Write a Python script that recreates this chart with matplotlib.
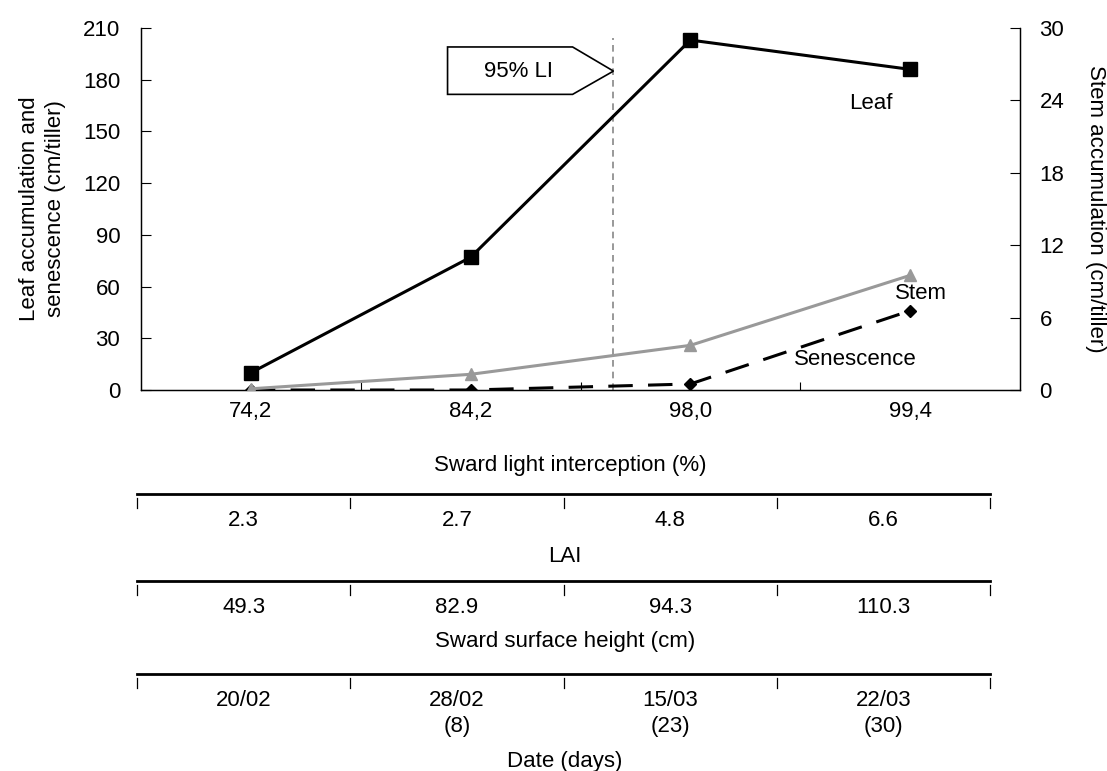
import matplotlib.pyplot as plt
import numpy as np
from matplotlib.patches import Polygon

plt.rcParams['font.family'] = ['Liberation Sans', 'DejaVu Sans']

# data
light_int = ['74,2', '84,2', '98,0', '99,4']
leaf = [10, 77, 203, 186]
senescence = [0, 0, 3.5, 46]
stem = [0.1, 1.3, 3.7, 9.5]          # right axis
lai = ['2.3', '2.7', '4.8', '6.6']
height = ['49.3', '82.9', '94.3', '110.3']
dates = ['20/02', '28/02\n(8)', '15/03\n(23)', '22/03\n(30)']
li95_x = 1.65

FS = 16
W, H = 1107, 771
fig = plt.figure(figsize=(W / 100, H / 100), dpi=100)
ax = fig.add_axes([141 / W, 1 - 390 / H, (1020 - 141) / W, (390 - 28) / H])
ax2 = ax.twinx()

x = np.arange(len(light_int))
ax.plot(x, leaf, color='black', lw=2.2, marker='s', ms=10, zorder=5)
ax.plot(x, senescence, color='black', lw=2.2, marker='D', ms=6,
        dashes=(8, 5), zorder=4)
ax2.plot(x, stem, color='#999999', lw=2.2, marker='^', ms=9, zorder=3)

ax.set_xlim(-0.5, 3.5)
ax.set_ylim(0, 210)
ax2.set_ylim(0, 30)
ax.set_yticks(np.arange(0, 211, 30))
ax2.set_yticks(np.arange(0, 31, 6))

ax.set_xticks([0.5, 1.5, 2.5])
ax.set_xticklabels([])
ax.tick_params(axis='x', which='major', direction='in', length=6, width=0.8)
ax.set_xticks(x, minor=True)
ax.set_xticklabels(light_int, minor=True)
ax.tick_params(axis='x', which='minor', length=0, pad=8, labelsize=FS)
ax.tick_params(axis='y', direction='in', length=7, width=0.8, labelsize=FS, pad=15)
ax2.tick_params(axis='y', direction='in', length=7, width=0.8, labelsize=FS, pad=14)

for a in (ax, ax2):
    a.spines['top'].set_visible(False)
    for s in a.spines.values():
        s.set_linewidth(0.9)

ax.set_ylabel('Leaf accumulation and\nsenescence (cm/tiller)', fontsize=FS,
              labelpad=12, linespacing=1.3)
ax2.set_ylabel('Stem accumulation (cm/tiller)', fontsize=FS, rotation=-90,
               labelpad=30)

# 95% LI marker
ax.plot([li95_x, li95_x], [0, 204], color='#888888', lw=1.2, dashes=(4, 3), zorder=1)
box = Polygon([[0.895, 199], [1.464, 199], [li95_x, 185], [1.464, 171.5],
               [0.895, 171.5]], closed=True, facecolor='white',
              edgecolor='black', lw=1.2, zorder=6)
ax.add_patch(box)
ax.text(1.22, 185, '95% LI', fontsize=FS, ha='center', va='center', zorder=7)

ax.text(2.82, 166, 'Leaf', fontsize=FS, ha='center', va='center')
ax.text(3.05, 56, 'Stem', fontsize=FS, ha='center', va='center')
ax.text(2.75, 17.5, 'Senescence', fontsize=FS, ha='center', va='center')

fig.text(570 / W, 1 - 466 / H, 'Sward light interception (%)', fontsize=FS,
         ha='center', va='center')

# lower tables
tab = fig.add_axes([0, 0, 1, 1], zorder=-1)
tab.set_xlim(0, W)
tab.set_ylim(H, 0)
tab.axis('off')
bounds = np.linspace(137, 990, 5)
centers = (bounds[:-1] + bounds[1:]) / 2
rows = [(494, lai, 510, 'LAI', 556),
        (581, height, 597, 'Sward surface height (cm)', 642),
        (674, dates, 690, 'Date (days)', 761)]
for yl, vals, yv, title, yt in rows:
    tab.plot([bounds[0], bounds[-1]], [yl, yl], color='black', lw=2)
    for b in bounds:
        tab.plot([b, b], [yl + 4, yl + 14], color='black', lw=0.9)
    for cx, v in zip(centers, vals):
        tab.text(cx, yv, v, fontsize=FS, ha='center', va='top',
                 linespacing=1.3)
    tab.text(565, yt, title, fontsize=FS, ha='center', va='center')

fig.savefig('out.png', dpi=100)
